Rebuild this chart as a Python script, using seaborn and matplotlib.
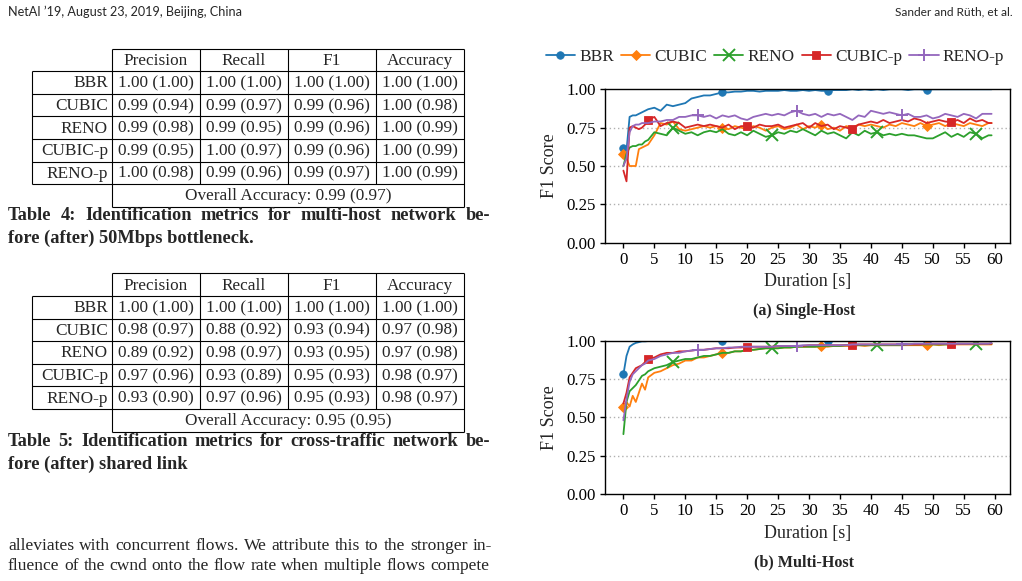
import numpy as np
import matplotlib
matplotlib.use("Agg")
import matplotlib.pyplot as plt
import seaborn as sns

# ---- data -------------------------------------------------------------
t = [0, 0.5, 1, 1.5, 2, 2.5, 3, 3.5] + list(range(4, 60)) + [59.5]

names = ['BBR', 'CUBIC', 'RENO', 'CUBIC-p', 'RENO-p']
colors = ['#1f77b4', '#ff7f0e', '#2ca02c', '#d62728', '#9467bd']
markers = ['o', 'D', 'x', 's', '+']

# single-host F1 over time
bbr_single = [0.62, 0.60, 0.82, 0.83, 0.83, 0.84, 0.85, 0.86,
              0.87, 0.88, 0.86, 0.90, 0.89, 0.90, 0.91, 0.94, 0.95, 0.96,
              0.96, 0.97, 0.98, 0.98, 0.985, 0.985, 0.99, 0.99, 0.985, 0.99,
              0.99, 0.99, 0.995, 0.99, 0.99, 0.995, 0.99, 0.995, 0.99, 0.99,
              0.995, 0.995, 0.995, 1.00, 0.995, 1.00, 0.995, 1.00, 0.995, 1.00,
              1.00, 1.00, 0.995, 1.00, 1.00, 0.995, 1.00, 1.00, 1.00, 1.00,
              1.00, 1.00, 1.00, 1.00, 1.00, 1.00,
              1.00]
cubic_single = [0.58, 0.55, 0.50, 0.50, 0.50, 0.61, 0.62, 0.63,
                0.64, 0.70, 0.78, 0.77, 0.79, 0.74, 0.73, 0.74, 0.75, 0.76,
                0.75, 0.76, 0.75, 0.74, 0.76, 0.75, 0.74, 0.76, 0.75, 0.73,
                0.75, 0.76, 0.74, 0.75, 0.77, 0.74, 0.76, 0.75, 0.77, 0.74,
                0.75, 0.73, 0.76, 0.75, 0.77, 0.76, 0.77, 0.76, 0.75, 0.77,
                0.76, 0.78, 0.77, 0.76, 0.78, 0.76, 0.77, 0.78, 0.76, 0.78,
                0.77, 0.76, 0.78, 0.77, 0.76, 0.78,
                0.78]
reno_single = [0.50, 0.58, 0.62, 0.63, 0.63, 0.64, 0.64, 0.66,
               0.67, 0.72, 0.71, 0.70, 0.75, 0.73, 0.71, 0.72, 0.70, 0.72,
               0.73, 0.72, 0.74, 0.71, 0.70, 0.72, 0.70, 0.73, 0.71, 0.69,
               0.70, 0.72, 0.71, 0.73, 0.72, 0.74, 0.72, 0.70, 0.73, 0.71,
               0.72, 0.70, 0.68, 0.72, 0.70, 0.73, 0.71, 0.72, 0.70, 0.71,
               0.70, 0.71, 0.70, 0.70, 0.69, 0.68, 0.68, 0.70, 0.72, 0.69,
               0.71, 0.69, 0.72, 0.71, 0.68, 0.70,
               0.70]
cubicp_single = [0.47, 0.40, 0.75, 0.76, 0.75, 0.74, 0.75, 0.77,
                 0.80, 0.82, 0.76, 0.78, 0.79, 0.78, 0.75, 0.76, 0.77, 0.76,
                 0.77, 0.76, 0.75, 0.77, 0.74, 0.76, 0.76, 0.75, 0.77, 0.76,
                 0.76, 0.77, 0.75, 0.76, 0.77, 0.78, 0.75, 0.78, 0.76, 0.77,
                 0.74, 0.76, 0.75, 0.74, 0.77, 0.78, 0.79, 0.78, 0.80, 0.78,
                 0.79, 0.80, 0.79, 0.81, 0.80, 0.78, 0.79, 0.80, 0.79, 0.785,
                 0.80, 0.78, 0.81, 0.79, 0.80, 0.78,
                 0.78]
renop_single = [0.50, 0.55, 0.72, 0.76, 0.77, 0.77, 0.78, 0.78,
                0.78, 0.79, 0.79, 0.80, 0.80, 0.82, 0.82, 0.83, 0.83, 0.82,
                0.83, 0.81, 0.83, 0.82, 0.83, 0.81, 0.80, 0.82, 0.83, 0.84,
                0.83, 0.84, 0.83, 0.85, 0.86, 0.84, 0.83, 0.84, 0.82, 0.84,
                0.83, 0.84, 0.82, 0.80, 0.83, 0.82, 0.86, 0.85, 0.84, 0.85,
                0.84, 0.83, 0.84, 0.82, 0.82, 0.83, 0.81, 0.82, 0.84, 0.83,
                0.82, 0.84, 0.83, 0.81, 0.84, 0.84,
                0.84]

# multi-host F1 over time
bbr_multi = [0.78, 0.90, 0.96, 0.975, 0.985, 0.99, 0.995, 0.995,
             0.997, 0.998, 0.998, 0.999, 0.999, 0.999, 0.999, 1.00, 1.00, 1.00,
             1.00, 1.00, 1.00, 1.00, 1.00, 1.00, 1.00, 1.00, 1.00, 1.00,
             1.00, 1.00, 1.00, 1.00, 1.00, 1.00, 1.00, 1.00, 1.00, 1.00,
             1.00, 1.00, 1.00, 1.00, 1.00, 1.00, 1.00, 1.00, 1.00, 1.00,
             1.00, 1.00, 1.00, 1.00, 1.00, 1.00, 1.00, 1.00, 1.00, 1.00,
             1.00, 1.00, 1.00, 1.00, 1.00, 1.00,
             1.00]
cubic_multi = [0.57, 0.60, 0.57, 0.64, 0.60, 0.66, 0.72, 0.68,
               0.76, 0.79, 0.80, 0.82, 0.84, 0.85, 0.87, 0.87, 0.89, 0.89,
               0.90, 0.91, 0.92, 0.92, 0.93, 0.93, 0.94, 0.94, 0.945, 0.95,
               0.95, 0.95, 0.955, 0.955, 0.96, 0.96, 0.96, 0.96, 0.965, 0.96,
               0.965, 0.965, 0.965, 0.965, 0.97, 0.965, 0.97, 0.97, 0.97, 0.97,
               0.97, 0.97, 0.97, 0.97, 0.97, 0.97, 0.975, 0.97, 0.975, 0.975,
               0.975, 0.975, 0.975, 0.975, 0.975, 0.975,
               0.975]
reno_multi = [0.39, 0.60, 0.67, 0.69, 0.71, 0.74, 0.77, 0.78,
              0.80, 0.82, 0.83, 0.84, 0.86, 0.87, 0.88, 0.88, 0.89, 0.90,
              0.90, 0.91, 0.92, 0.92, 0.93, 0.93, 0.94, 0.94, 0.945, 0.95,
              0.95, 0.95, 0.955, 0.955, 0.96, 0.96, 0.96, 0.96, 0.965, 0.965,
              0.965, 0.965, 0.97, 0.97, 0.97, 0.97, 0.97, 0.97, 0.97, 0.97,
              0.97, 0.97, 0.975, 0.975, 0.975, 0.975, 0.975, 0.975, 0.975, 0.975,
              0.98, 0.98, 0.98, 0.98, 0.98, 0.98,
              0.98]
cubicp_multi = [0.59, 0.66, 0.76, 0.79, 0.82, 0.83, 0.84, 0.86,
                0.88, 0.89, 0.91, 0.92, 0.92, 0.93, 0.93, 0.935, 0.94, 0.94,
                0.945, 0.95, 0.95, 0.95, 0.955, 0.955, 0.96, 0.96, 0.96, 0.96,
                0.96, 0.965, 0.965, 0.965, 0.965, 0.965, 0.97, 0.97, 0.97, 0.97,
                0.97, 0.97, 0.97, 0.97, 0.975, 0.975, 0.975, 0.975, 0.975, 0.975,
                0.975, 0.975, 0.975, 0.975, 0.975, 0.98, 0.98, 0.98, 0.98, 0.98,
                0.98, 0.98, 0.98, 0.98, 0.98, 0.98,
                0.98]
renop_multi = [0.48, 0.62, 0.73, 0.78, 0.80, 0.82, 0.84, 0.85,
               0.87, 0.88, 0.90, 0.91, 0.92, 0.92, 0.93, 0.935, 0.94, 0.94,
               0.945, 0.95, 0.95, 0.955, 0.955, 0.96, 0.96, 0.96, 0.96, 0.96,
               0.96, 0.965, 0.965, 0.965, 0.965, 0.97, 0.97, 0.97, 0.97, 0.97,
               0.97, 0.97, 0.97, 0.975, 0.975, 0.975, 0.975, 0.975, 0.975, 0.975,
               0.975, 0.975, 0.975, 0.98, 0.98, 0.98, 0.98, 0.98, 0.98, 0.98,
               0.98, 0.98, 0.98, 0.98, 0.98, 0.98,
               0.985]

single_host = [bbr_single, cubic_single, reno_single, cubicp_single, renop_single]
multi_host = [bbr_multi, cubic_multi, reno_multi, cubicp_multi, renop_multi]

# times where the markers sit
marker_times = [[0, 16.5, 33, 49.5], [0, 16, 32.5, 49], [8, 24.5, 41, 57.5],
                [4, 20.5, 37, 53.5], [12.5, 28.5, 45]]

# tables
table_cols = ['Precision', 'Recall', 'F1', 'Accuracy']
table4_rows = [['1.00 (1.00)', '1.00 (1.00)', '1.00 (1.00)', '1.00 (1.00)'],
               ['0.99 (0.94)', '0.99 (0.97)', '0.99 (0.96)', '1.00 (0.98)'],
               ['0.99 (0.98)', '0.99 (0.95)', '0.99 (0.96)', '1.00 (0.99)'],
               ['0.99 (0.95)', '1.00 (0.97)', '0.99 (0.96)', '1.00 (0.99)'],
               ['1.00 (0.98)', '0.99 (0.96)', '0.99 (0.97)', '1.00 (0.99)']]
table4_overall = 'Overall Accuracy: 0.99 (0.97)'
table5_rows = [['1.00 (1.00)', '1.00 (1.00)', '1.00 (1.00)', '1.00 (1.00)'],
               ['0.98 (0.97)', '0.88 (0.92)', '0.93 (0.94)', '0.97 (0.98)'],
               ['0.89 (0.92)', '0.98 (0.97)', '0.93 (0.95)', '0.97 (0.98)'],
               ['0.97 (0.96)', '0.93 (0.89)', '0.95 (0.93)', '0.98 (0.97)'],
               ['0.93 (0.90)', '0.97 (0.96)', '0.95 (0.93)', '0.98 (0.97)']]
table5_overall = 'Overall Accuracy: 0.95 (0.95)'

# ---- style ------------------------------------------------------------
sns.set_theme(style='ticks')
plt.rcParams['font.family'] = ['Liberation Serif', 'DejaVu Serif']
plt.rcParams['axes.linewidth'] = 1.0
plt.rcParams['xtick.major.width'] = 1.0
plt.rcParams['ytick.major.width'] = 1.0
plt.rcParams['xtick.major.size'] = 3.5
plt.rcParams['ytick.major.size'] = 3.5
plt.rcParams['axes.edgecolor'] = 'black'
plt.rcParams['xtick.color'] = 'black'
plt.rcParams['ytick.color'] = 'black'

W, H = 1022, 581
fig = plt.figure(figsize=(W / 100, H / 100), dpi=100)
fig.patch.set_facecolor('white')

# full-page overlay in pixel coords for the text / tables
page = fig.add_axes([0, 0, 1, 1])
page.set_xlim(0, W)
page.set_ylim(H, 0)
page.axis('off')
renderer = fig.canvas.get_renderer()


def justify(text, x0, x1, y, **kw):
    # spread the words of one line evenly between x0 and x1
    words = text.split(' ')
    arts = [page.text(0, y, w, ha='left', va='center', **kw) for w in words]
    widths = [a.get_window_extent(renderer).width for a in arts]
    gap = (x1 - x0 - sum(widths)) / (len(words) - 1)
    x = x0
    for a, w in zip(arts, widths):
        a.set_x(x)
        x += w + gap


sans = ['Lato', 'DejaVu Sans']
page.text(8, 12, "NetAI \u201919, August 23, 2019, Beijing, China", family=sans,
          fontsize=9.1, va='center', ha='left')
page.text(1013, 12, "Sander and R\u00fcth, et al.", family=sans,
          fontsize=8.6, va='center', ha='right')


def draw_table(top, rows, overall):
    rh = 22.6
    xs = [32, 112, 200, 288, 376, 464]
    ys = [top + i * rh for i in range(8)]
    lw = 0.8
    page.hlines(ys[0], xs[1], xs[-1], color='black', lw=lw)
    for y in ys[1:7]:
        page.hlines(y, xs[0], xs[-1], color='black', lw=lw)
    page.hlines(ys[7], xs[1], xs[-1], color='black', lw=lw)
    page.vlines(xs[0], ys[1], ys[6], color='black', lw=lw)
    page.vlines([xs[1], xs[-1]], ys[0], ys[7], color='black', lw=lw)
    page.vlines(xs[2:5], ys[0], ys[6], color='black', lw=lw)
    fs = 12.4
    for j, c in enumerate(table_cols):
        page.text((xs[j + 1] + xs[j + 2]) / 2, ys[0] + rh / 2 + 1, c,
                  ha='center', va='center', fontsize=fs)
    for i, (name, r) in enumerate(zip(names, rows)):
        yc = ys[i + 1] + rh / 2 + 1
        page.text(xs[1] - 4, yc, name, ha='right', va='center', fontsize=fs)
        for j, v in enumerate(r):
            page.text((xs[j + 1] + xs[j + 2]) / 2, yc, v,
                      ha='center', va='center', fontsize=fs)
    page.text((xs[1] + xs[-1]) / 2, ys[6] + rh / 2 + 1, overall,
              ha='center', va='center', fontsize=fs)


draw_table(48.5, table4_rows, table4_overall)
draw_table(273.3, table5_rows, table5_overall)

cap_kw = dict(fontsize=13.2, fontweight='bold')
justify('Table 4: Identification metrics for multi-host network be-', 8, 490, 216, **cap_kw)
page.text(8, 238, 'fore (after) 50Mbps bottleneck.', ha='left', va='center', **cap_kw)
justify('Table 5: Identification metrics for cross-traffic network be-', 8, 490, 442, **cap_kw)
page.text(8, 464, 'fore (after) shared link', ha='left', va='center', **cap_kw)

justify('alleviates with concurrent flows. We attribute this to the stronger in-',
        8, 492, 546, fontsize=12.6)
justify('fluence of the cwnd onto the flow rate when multiple flows compete',
        8, 489, 566, fontsize=12.6)

# ---- charts -----------------------------------------------------------
t_arr = np.array(t, dtype=float)


def draw_chart(bottom_px, series, caption, caption_y):
    ax = fig.add_axes([605 / W, 1 - bottom_px / H, 405 / W, 153.4 / H])
    for name, vals, c, m, mt in zip(names, series, colors, markers, marker_times):
        idx = [int(np.argmin(np.abs(t_arr - v))) for v in mt]
        thin = m in ('x', '+')
        sns.lineplot(x=t, y=vals, ax=ax, color=c, linewidth=1.3, label=name,
                     marker=m, markevery=idx,
                     markersize=9 if thin else (4.8 if m == 'D' else 5.4),
                     markeredgecolor=c, markeredgewidth=1.4 if thin else 0.6)
    if ax.get_legend() is not None:
        ax.get_legend().remove()
    ax.set_ylim(0, 1)
    ax.set_xlim(-2.975, 62.475)
    ax.set_xticks(range(0, 61, 5))
    ax.set_yticks([0, 0.25, 0.5, 0.75, 1.0])
    ax.set_yticklabels(['0.00', '0.25', '0.50', '0.75', '1.00'])
    for y in [0.25, 0.5, 0.75]:
        ax.axhline(y, color='#b0b0b0', lw=1.0, ls=(0, (1, 2)), zorder=0)
    ax.tick_params(labelsize=12.2, pad=3, direction='out')
    ax.set_xlabel('Duration [s]', fontsize=13, labelpad=4)
    ax.set_ylabel('F1 Score', fontsize=13, labelpad=6)
    for sp in ax.spines.values():
        sp.set_visible(True)
        sp.set_color('black')
    page.text(804, caption_y, caption, fontsize=11.6, fontweight='bold',
              ha='center', va='center')
    return ax


ax_top = draw_chart(242.7, single_host, '(a) Single-Host', 311)
ax_bot = draw_chart(494.0, multi_host, '(b) Multi-Host', 562)

handles, labels = ax_top.get_legend_handles_labels()
fig.legend(handles, labels, loc='center', bbox_to_anchor=(775 / W, 1 - 57 / H),
           ncol=5, frameon=False, fontsize=12.4, handlelength=1.7,
           handletextpad=0.25, columnspacing=0.4, borderaxespad=0)

fig.savefig('out.png', dpi=100, facecolor='white')
